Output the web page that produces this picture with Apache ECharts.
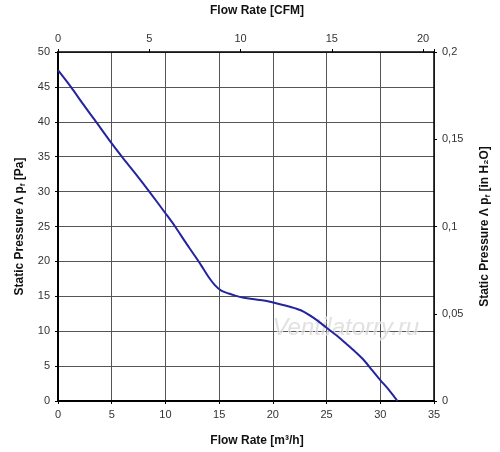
<!DOCTYPE html>
<html>
<head>
<meta charset="utf-8">
<script src="https://cdn.jsdelivr.net/npm/echarts@6/dist/echarts.min.js"></script>
<style>
  html, body { margin: 0; padding: 0; background: #fff; }
  #main { width: 500px; height: 452px; }
</style>
</head>
<body>
<div id="main"></div>
<script>
// 风量 m3/h 与静压 Pa
var flowM3h = [0, 1.2, 2.3, 3.4, 5, 6.05, 7.3, 8.55, 10, 10.9, 11.8, 12.6, 13.3, 14.0, 14.6, 15.2, 15.9, 16.5, 17.3, 18.1, 19.3, 20.3, 21.6, 22.6, 23.8, 25, 26, 26.9, 27.7, 28.5, 29.3, 30, 30.8, 31.6];
var pressurePa = [47.4, 45.0, 42.6, 40.3, 36.9, 34.8, 32.4, 29.9, 26.9, 25.0, 22.9, 21.1, 19.5, 17.8, 16.6, 15.8, 15.4, 15.1, 14.8, 14.6, 14.35, 14.0, 13.5, 13.0, 11.9, 10.5, 9.3, 8.1, 7.0, 5.8, 4.3, 3.0, 1.6, 0];

// 坐标轴范围
var m3hMax = 35;
var paMax = 50;
var cfmMax = m3hMax / 1.699;   // 副轴 CFM
var inH2OMax = 0.2;            // 副轴 in H2O

var myChart = echarts.init(document.getElementById('main'));

var points = flowM3h.map(function (x, i) { return [x, pressurePa[i]]; });

var labelStyle = { color: '#333', fontSize: 11, fontFamily: 'Liberation Sans, Arial, sans-serif' };
var nameStyle = { color: '#111', fontSize: 12, fontWeight: 'bold', fontFamily: 'Liberation Sans, Arial, sans-serif', padding: [0, 0, 0, 22] };
var subRich = {
    a: { fontSize: 12, fontWeight: 'bold', color: '#111', fontFamily: 'Liberation Sans, Arial, sans-serif' },
    s: { fontSize: 8, fontWeight: 'bold', color: '#111', fontFamily: 'Liberation Sans, Arial, sans-serif', padding: [6, 0, 0, 0] }
};

var option = {
    animation: false,
    backgroundColor: '#fff',
    grid: { left: 58, right: 66, top: 50, bottom: 48 },
    xAxis: [{
        type: 'value', position: 'bottom',
        min: 0, max: m3hMax, interval: 5,
        name: 'Flow Rate [m³/h]', nameLocation: 'middle', nameGap: 34,
        nameTextStyle: nameStyle,
        axisLine: { onZero: false, lineStyle: { color: '#000', width: 2 } },
        axisTick: { show: true, length: 3, lineStyle: { color: '#000' } },
        axisLabel: Object.assign({ margin: 8 }, labelStyle),
        splitLine: { show: true, lineStyle: { color: '#555', width: 1 } }
    }, {
        type: 'value', position: 'top',
        min: 0, max: cfmMax, interval: 5,
        name: 'Flow Rate [CFM]', nameLocation: 'middle', nameGap: 35,
        nameTextStyle: nameStyle,
        axisLine: { show: true, onZero: false, lineStyle: { color: '#000', width: 1.5 } },
        axisTick: { show: true, length: 3, lineStyle: { color: '#000' } },
        axisLabel: Object.assign({
            margin: 8,
            formatter: function (v) { return Math.abs(v / 5 - Math.round(v / 5)) < 1e-6 ? String(v) : ''; }
        }, labelStyle),
        splitLine: { show: false }
    }],
    yAxis: [{
        type: 'value', position: 'left',
        min: 0, max: paMax, interval: 5,
        name: '{a|Static Pressure Λ p}{s|f}{a| [Pa]}', nameLocation: 'middle', nameGap: 30, nameRotate: 90,
        nameTextStyle: { rich: subRich },
        axisLine: { show: true, onZero: false, lineStyle: { color: '#000', width: 2 } },
        axisTick: { show: true, length: 3, lineStyle: { color: '#000' } },
        axisLabel: Object.assign({ margin: 8 }, labelStyle),
        splitLine: { show: true, lineStyle: { color: '#555', width: 1 } }
    }, {
        type: 'value', position: 'right',
        min: 0, max: inH2OMax, interval: 0.05,
        name: '{a|Static Pressure Λ p}{s|f}{a| [in H₂O]}', nameLocation: 'middle', nameGap: 44, nameRotate: 90,
        nameTextStyle: { rich: subRich },
        axisLine: { show: true, onZero: false, lineStyle: { color: '#000', width: 1.5 } },
        axisTick: { show: true, length: 3, lineStyle: { color: '#000' } },
        axisLabel: Object.assign({
            margin: 8,
            formatter: function (v) { return String(+v.toFixed(2)).replace('.', ','); }
        }, labelStyle),
        splitLine: { show: false }
    }],
    graphic: [{
        type: 'text', left: 272, top: 316, z: 1, silent: true,
        style: {
            text: 'Ventilatorry.ru',
            font: 'italic 24px "Liberation Sans", Arial, sans-serif',
            fill: 'rgba(205,205,205,0.6)',
            stroke: 'rgba(255,255,255,0.8)',
            lineWidth: 1
        }
    }],
    series: [{
        type: 'line',
        xAxisIndex: 0, yAxisIndex: 0,
        data: points,
        smooth: 0.3,
        showSymbol: false,
        z: 5,
        lineStyle: { color: '#2424a0', width: 2 }
    }]
};

myChart.setOption(option);
</script>
</body>
</html>
